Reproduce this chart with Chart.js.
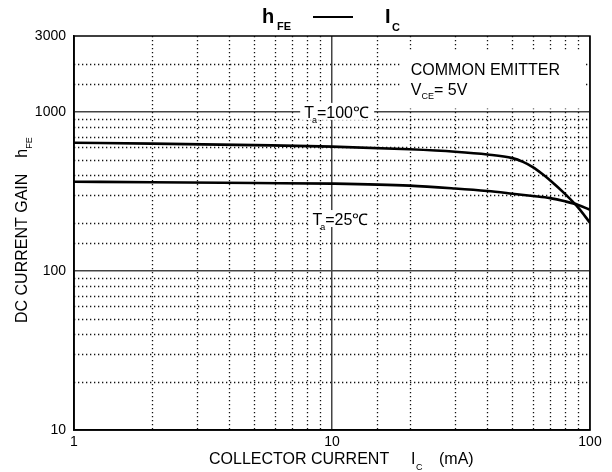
<!DOCTYPE html>
<html>
<head>
<meta charset="utf-8">
<script src="https://cdn.jsdelivr.net/npm/chart.js@4.4.0/dist/chart.umd.min.js"></script>
<style>
body{margin:0;background:#fff;}
#wrap{width:612px;height:472px;}
</style>
</head>
<body>
<div id="wrap"><canvas id="graph" width="612" height="472"></canvas></div>
<script>
// collector current (mA) and dc gain
var ic100 = [1, 2, 5, 10, 20, 30, 40, 50, 55, 60, 65, 70, 80, 90, 100];
var hfe100 = [640, 632, 618, 605, 582, 562, 540, 512, 485, 450, 410, 372, 305, 250, 201];
var ic25 = [1, 2, 5, 10, 20, 30, 40, 50, 60, 70, 80, 90, 100];
var hfe25 = [364, 361, 357, 354, 344, 330, 318, 306, 296, 287, 274, 260, 242];
var xLabels = [1, 10, 100];
var yLabels = [10, 100, 1000, 3000];

var FONT = '"Liberation Sans", Arial, Helvetica, sans-serif';
var ctx = document.getElementById('graph').getContext('2d');

function isDecade(v){
    var l = Math.log10(v);
    return Math.abs(l - Math.round(l)) < 1e-6;
}
function toPoints(xs, ys){
    return xs.map(function(x, i){ return {x: x, y: ys[i]}; });
}
// draws a run of text pieces: [text, size, bold, dy]
function textRun(c, x, y, parts){
    for(let i = 0; i < parts.length; i++){
        let p = parts[i];
        c.font = (p[2] ? 'bold ' : '') + p[1] + 'px ' + FONT;
        c.fillText(p[0], x, y + p[3]);
        x += c.measureText(p[0]).width + (p[4] || 0);
    }
    return x;
}
function gridColor(c){
    var v = c.tick.value;
    if(!isDecade(v)) return 'rgba(0,0,0,0)';
    return '#444';
}

var dottedGrid = {
    id: 'dottedGrid',
    beforeDatasetsDraw: function(chart){
        var c = chart.ctx, a = chart.chartArea;
        var xs = chart.scales.x, ys = chart.scales.y;
        c.save();
        c.strokeStyle = '#111';
        c.lineWidth = 1.3;
        c.setLineDash([1.3, 2.7]);
        xs.ticks.forEach(function(t){
            if(isDecade(t.value)) return;
            let px = Math.round(xs.getPixelForValue(t.value)) + 0.5;
            c.beginPath(); c.moveTo(px, a.top); c.lineTo(px, a.bottom); c.stroke();
        });
        ys.ticks.forEach(function(t){
            if(isDecade(t.value) || t.value >= ys.max) return;
            let py = Math.round(ys.getPixelForValue(t.value)) + 0.5;
            c.beginPath(); c.moveTo(a.left, py); c.lineTo(a.right, py); c.stroke();
        });
        c.restore();
    }
};

var labelsPlugin = {
    id: 'labelsPlugin',
    afterDraw: function(chart){
        var c = chart.ctx, a = chart.chartArea;
        var xs = chart.scales.x, ys = chart.scales.y;
        c.save();
        c.fillStyle = '#000';
        c.textBaseline = 'alphabetic';
        c.textAlign = 'left';

        // frame
        c.strokeStyle = '#000';
        c.lineWidth = 1.5;
        c.strokeRect(a.left, a.top, a.right - a.left, a.bottom - a.top);

        // title
        textRun(c, 262, 23, [['h', 20, true, 0]]);
        textRun(c, 277, 30, [['FE', 11, true, 0]]);
        c.lineWidth = 2;
        c.beginPath(); c.moveTo(313, 17); c.lineTo(353, 17); c.stroke();
        textRun(c, 385, 23, [['I', 20, true, 0]]);
        textRun(c, 392, 31, [['C', 11, true, 0]]);

        // curve labels with white backing
        var lx = xs.getPixelForValue(7.8), ly = ys.getPixelForValue(1000);
        c.fillStyle = '#fff';
        c.fillRect(lx - 4, ly - 9, 74, 17);
        c.fillStyle = '#000';
        var nx = textRun(c, lx, ly + 6, [['T', 16, false, 0]]);
        textRun(c, nx - 2, ly + 11, [['a', 9, false, 0]]);
        textRun(c, nx + 3, ly + 6, [['=100\u2103', 16, false, 0]]);

        lx = xs.getPixelForValue(8.4); ly = ys.getPixelForValue(212);
        c.fillStyle = '#fff';
        c.fillRect(lx - 3, ly - 9, 64, 17);
        c.fillStyle = '#000';
        nx = textRun(c, lx, ly + 6, [['T', 16, false, 0]]);
        textRun(c, nx - 2, ly + 11, [['a', 9, false, 0]]);
        textRun(c, nx + 3, ly + 6, [['=25\u2103', 16, false, 0]]);

        // conditions box
        lx = xs.getPixelForValue(20.2);
        c.fillStyle = '#fff';
        c.fillRect(lx - 9, ys.getPixelForValue(2400), a.right - 4 - (lx - 9), ys.getPixelForValue(1050) - ys.getPixelForValue(2400));
        c.fillStyle = '#000';
        textRun(c, lx, ys.getPixelForValue(1860) + 6, [['COMMON EMITTER', 16, false, 0]]);
        ly = ys.getPixelForValue(1390) + 6;
        nx = textRun(c, lx, ly, [['V', 16, false, 0]]);
        nx = textRun(c, nx, ly + 4, [['CE', 9, false, 0]]);
        textRun(c, nx, ly, [['= 5V', 16, false, 0]]);

        // x axis title
        textRun(c, 209, 464, [['COLLECTOR CURRENT', 16, false, 0]]);
        textRun(c, 411, 464, [['I', 16, false, 0]]);
        textRun(c, 416, 470, [['C', 9, false, 0]]);
        textRun(c, 439, 464, [['(mA)', 16, false, 0]]);

        // y axis title
        c.translate(27, 323);
        c.rotate(-Math.PI / 2);
        nx = textRun(c, 0, 0, [['DC CURRENT GAIN', 16, false, 0]]);
        nx = textRun(c, nx + 16, 0, [['h', 16, false, 0]]);
        textRun(c, nx, 5, [['FE', 9, false, 0]]);
        c.restore();
    }
};

var chart = new Chart(ctx, {
    type: 'line',
    data: {
        datasets: [
            {label: 'Ta=100', data: toPoints(ic100, hfe100), borderColor: '#000', borderWidth: 2.6,
             pointRadius: 0, fill: false, cubicInterpolationMode: 'monotone'},
            {label: 'Ta=25', data: toPoints(ic25, hfe25), borderColor: '#000', borderWidth: 2.6,
             pointRadius: 0, fill: false, cubicInterpolationMode: 'monotone'}
        ]
    },
    options: {
        responsive: false,
        animation: false,
        devicePixelRatio: 1,
        layout: {padding: {top: 36, right: 22, left: 0, bottom: 0}},
        plugins: {legend: {display: false}, tooltip: {enabled: false}},
        scales: {
            x: {
                type: 'logarithmic', min: 1, max: 100,
                afterFit: function(s){ s.height = 42; },
                border: {color: '#000', width: 1.5},
                grid: {color: gridColor, lineWidth: 1.5, drawTicks: false},
                ticks: {
                    autoSkip: false, maxRotation: 0, padding: 4, color: '#000',
                    font: {family: FONT, size: 14},
                    callback: function(v){ return xLabels.indexOf(v) >= 0 ? String(v) : ''; }
                }
            },
            y: {
                type: 'logarithmic', min: 10, max: 3000,
                afterFit: function(s){ s.width = 74; },
                border: {color: '#000', width: 1.5},
                grid: {color: gridColor, lineWidth: 1.5, drawTicks: false},
                ticks: {
                    autoSkip: false, padding: 8, color: '#000',
                    font: {family: FONT, size: 14},
                    callback: function(v){ return yLabels.indexOf(v) >= 0 ? String(v) : ''; }
                }
            }
        }
    },
    plugins: [dottedGrid, labelsPlugin]
});
</script>
</body>
</html>
